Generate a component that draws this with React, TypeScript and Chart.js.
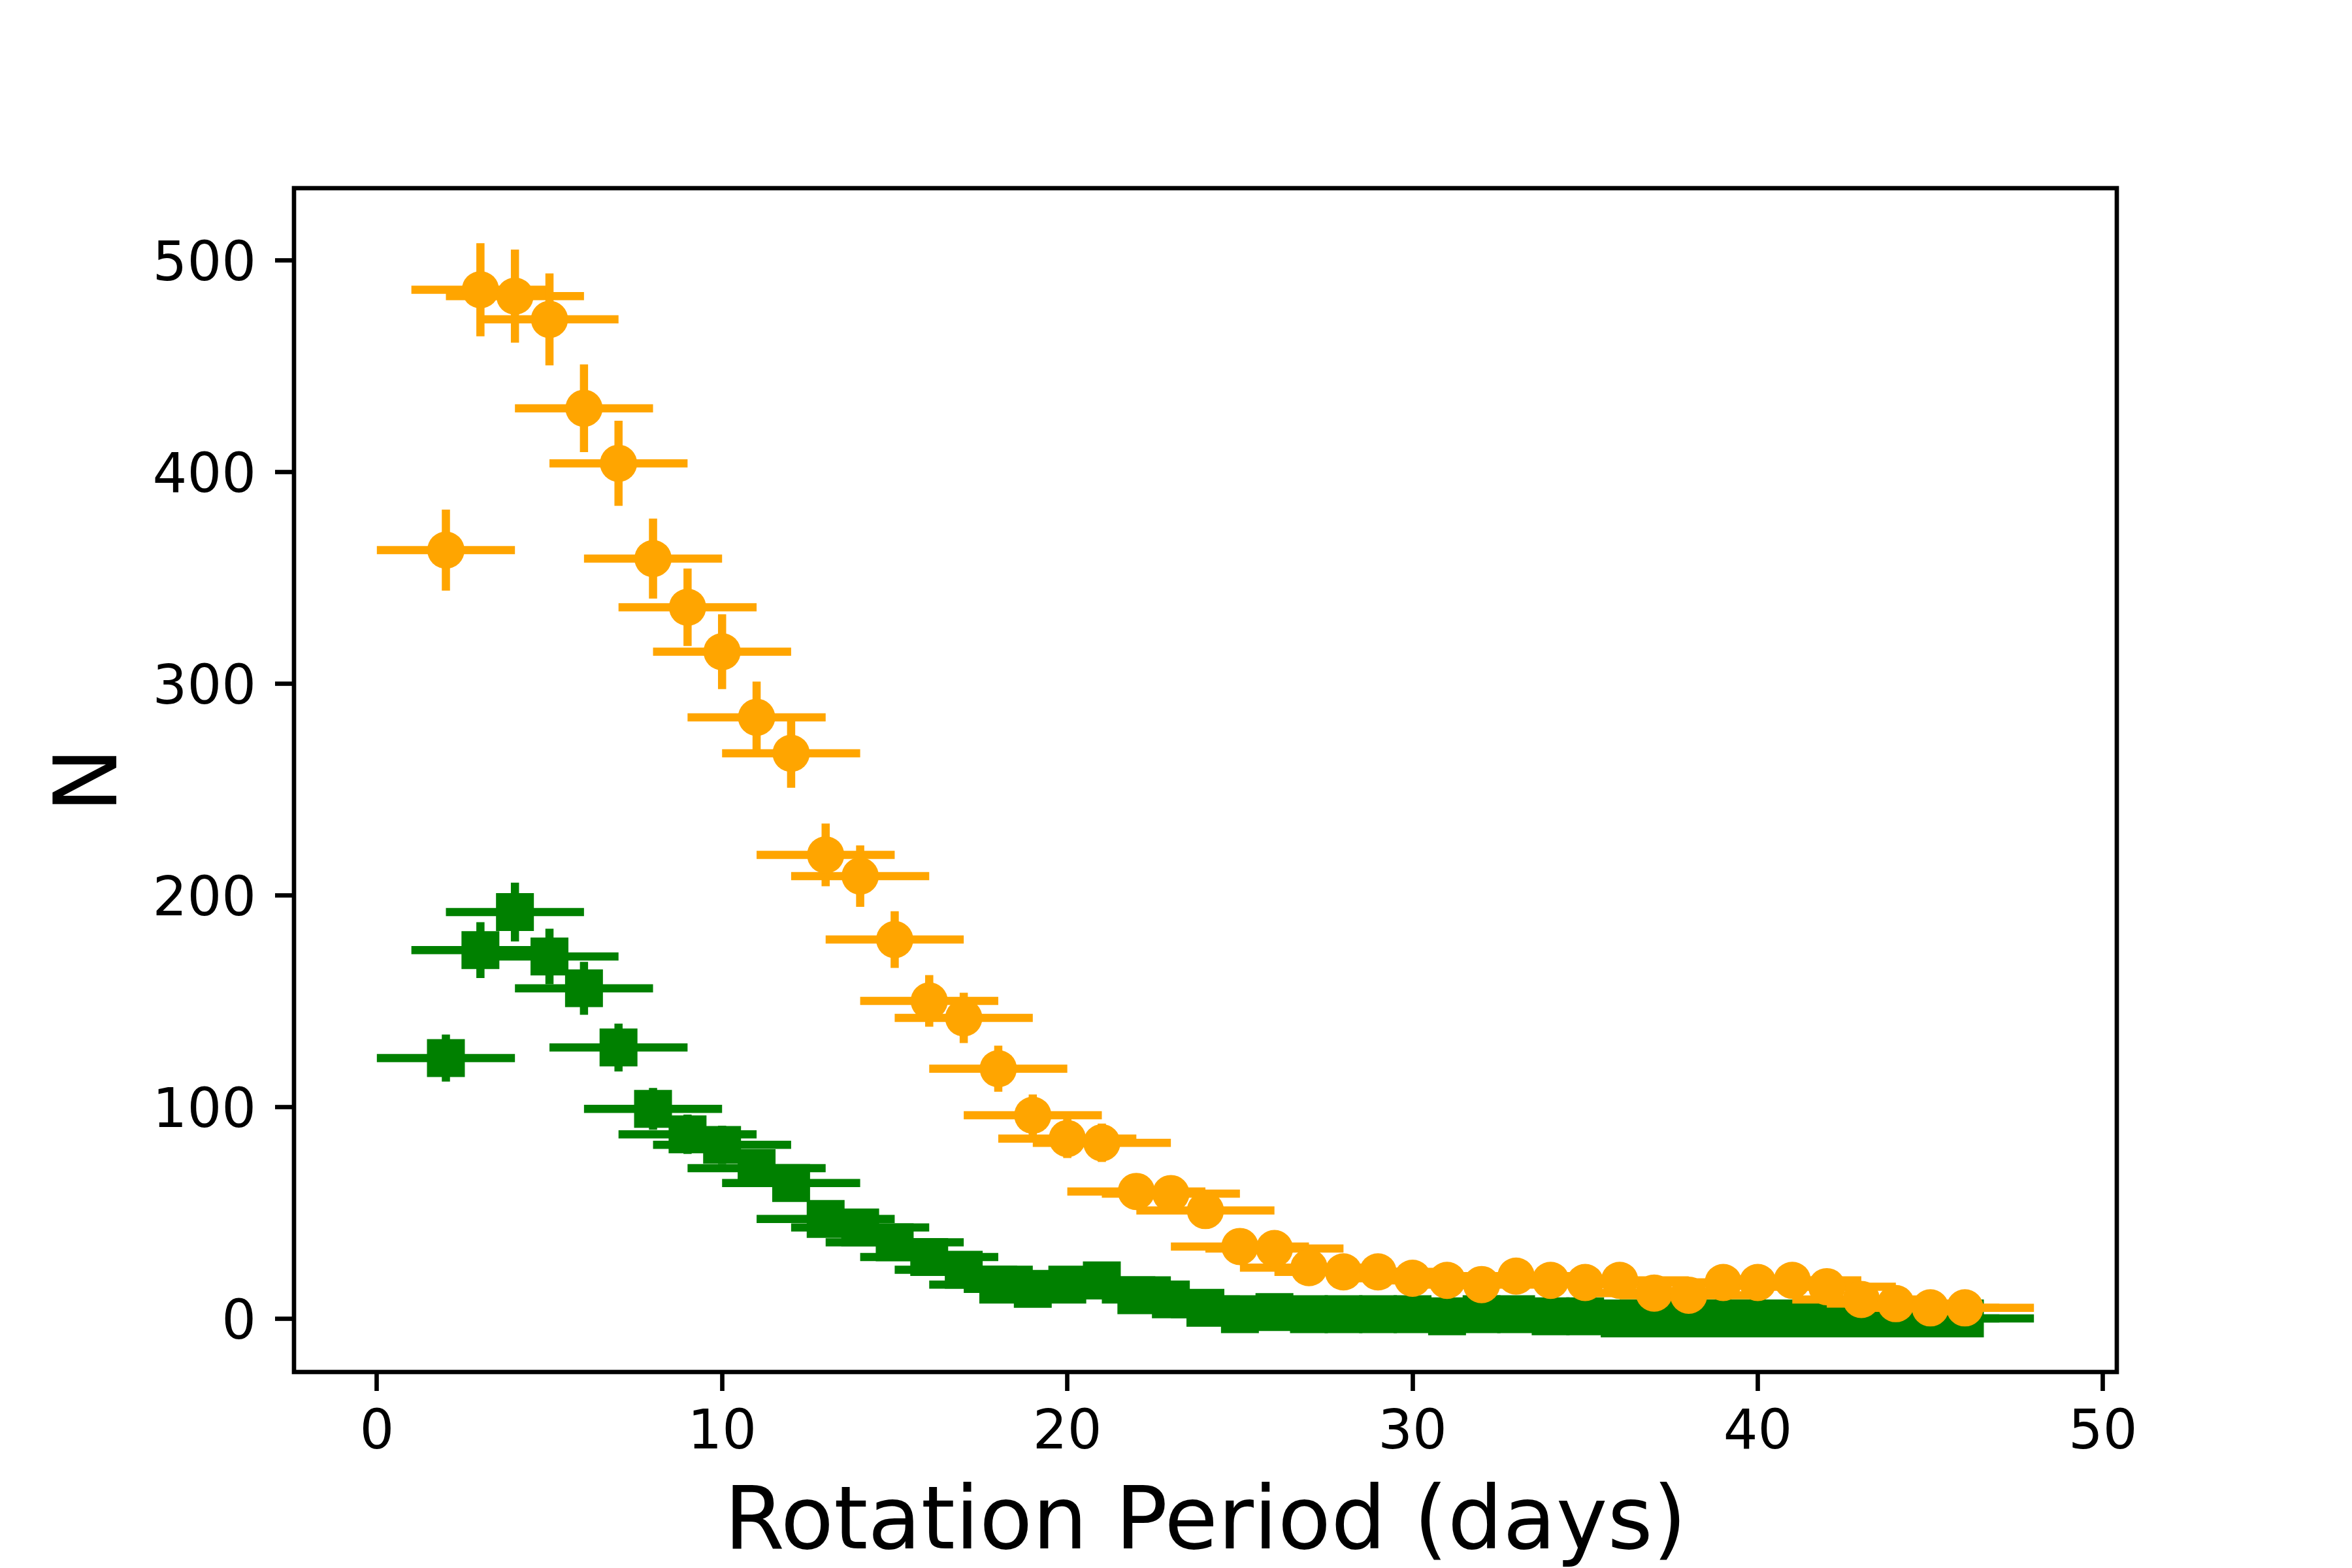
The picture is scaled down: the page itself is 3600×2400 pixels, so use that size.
import React, { useEffect, useRef } from "react";
import { Chart, registerables } from "chart.js";

Chart.register(...registerables);

// Rotation period bins (days)
const PERIODS = [
  2, 3, 4, 5, 6, 7, 8, 9, 10, 11, 12, 13, 14, 15, 16, 17, 18, 19, 20, 21, 22, 23,
  24, 25, 26, 27, 28, 29, 30, 31, 32, 33, 34, 35, 36, 37, 38, 39, 40, 41, 42, 43,
  44, 45, 46,
];

// Orange (circles) counts and errors
const ORANGE_N = [
  363, 486, 483, 472, 430, 404, 359, 336, 315, 284, 267, 219, 209, 179, 150, 142,
  118, 96, 85, 83, 60, 59, 51, 34, 33, 24, 22, 22, 19, 18, 16, 20, 18, 17, 18, 12,
  11, 17, 17, 18, 15, 9, 7, 5, 5,
];
const ORANGE_ERR = [
  19.1, 22.0, 22.0, 21.7, 20.7, 20.1, 18.9, 18.3, 17.7, 16.9, 16.3, 14.8, 14.5,
  13.4, 12.2, 11.9, 10.9, 9.8, 9.2, 9.1, 7.7, 7.7, 7.1, 5.8, 5.7, 4.9, 4.7, 4.7,
  4.4, 4.2, 4.0, 4.5, 4.2, 4.1, 4.2, 3.5, 3.3, 4.1, 4.1, 4.2, 3.9, 3.0, 2.6, 2.2,
  2.2,
];

// Green (squares) counts and errors
const GREEN_N = [
  123, 174, 192, 171, 156, 128, 99, 87, 82, 71, 64, 47, 43, 36, 29, 23, 16, 14,
  16, 18, 11, 9, 5, 2, 3, 2, 2, 2, 2, 1, 2, 2, 1, 1, 0, 0, 0, 0, 0, 0, 0, 0, 0, 0,
  0,
];
const GREEN_ERR = [
  11.1, 13.2, 13.9, 13.1, 12.5, 11.3, 9.9, 9.3, 9.1, 8.4, 8.0, 6.9, 6.6, 6.0, 5.4,
  4.8, 4.0, 3.7, 4.0, 4.2, 3.3, 3.0, 2.2, 1.4, 1.7, 1.4, 1.4, 1.4, 1.4, 1.0, 1.4,
  1.4, 1.0, 1.0, 0, 0, 0, 0, 0, 0, 0, 0, 0, 0, 0,
];

// Half bin width (x error)
const X_ERR = 2;

const X_TICKS = [0, 10, 20, 30, 40, 50];
const Y_TICKS = [0, 100, 200, 300, 400, 500];

const X_LABEL = "Rotation Period (days)";
const Y_LABEL = "N";

const ORANGE = "#FFA500";
const GREEN = "#008000";
const FONT = "DejaVu Sans";

const errorBarPlugin = {
  id: "errorBars",
  beforeDatasetDraw(chart: any, args: any) {
    const ds = chart.data.datasets[args.index];
    const { ctx, chartArea } = chart;
    const xs = chart.scales.x;
    const ys = chart.scales.y;
    ctx.save();
    ctx.beginPath();
    ctx.rect(chartArea.left, chartArea.top, chartArea.right - chartArea.left, chartArea.bottom - chartArea.top);
    ctx.clip();
    ctx.strokeStyle = ds.errColor;
    ctx.lineWidth = 12.5;
    ctx.lineCap = "butt";
    ds.data.forEach((p: any, i: number) => {
      const px = xs.getPixelForValue(p.x);
      const py = ys.getPixelForValue(p.y);
      const xe = ds.xErr;
      const ye = ds.yErr[i];
      ctx.beginPath();
      ctx.moveTo(xs.getPixelForValue(p.x - xe), py);
      ctx.lineTo(xs.getPixelForValue(p.x + xe), py);
      if (ye > 0) {
        ctx.moveTo(px, ys.getPixelForValue(p.y - ye));
        ctx.lineTo(px, ys.getPixelForValue(p.y + ye));
      }
      ctx.stroke();
    });
    ctx.restore();
  },
};

const framePlugin = {
  id: "frame",
  afterDatasetsDraw(chart: any) {
    const { ctx, chartArea } = chart;
    ctx.save();
    ctx.strokeStyle = "#000";
    ctx.lineWidth = 6.67;
    ctx.lineJoin = "miter";
    ctx.strokeRect(chartArea.left, chartArea.top, chartArea.right - chartArea.left, chartArea.bottom - chartArea.top);
    ctx.restore();
  },
};

export default function App() {
  const canvasRef = useRef<HTMLCanvasElement | null>(null);

  useEffect(() => {
    const canvas = canvasRef.current;
    if (!canvas) return;
    Chart.defaults.font.family = FONT;
    const chart = new Chart(canvas, {
      type: "scatter",
      data: {
        datasets: [
          {
            label: "orange",
            data: PERIODS.map((x, i) => ({ x, y: ORANGE_N[i] })),
            backgroundColor: ORANGE,
            borderColor: ORANGE,
            borderWidth: 0,
            pointStyle: "circle",
            pointRadius: 28.5,
            pointHoverRadius: 28.5,
            order: 0,
            errColor: ORANGE,
            xErr: X_ERR,
            yErr: ORANGE_ERR,
          } as any,
          {
            label: "green",
            data: PERIODS.map((x, i) => ({ x, y: GREEN_N[i] })),
            backgroundColor: GREEN,
            borderColor: GREEN,
            borderWidth: 0,
            pointStyle: "rect",
            pointRadius: 41,
            pointHoverRadius: 41,
            order: 1,
            errColor: GREEN,
            xErr: X_ERR,
            yErr: GREEN_ERR,
          } as any,
        ],
      },
      options: {
        responsive: false,
        devicePixelRatio: 1,
        animation: false,
        events: [],
        layout: { padding: { top: 288, right: 360, left: 0, bottom: 0 } },
        plugins: { legend: { display: false }, tooltip: { enabled: false } },
        scales: {
          x: {
            type: "linear",
            position: "bottom",
            min: -2.4,
            max: 50.4,
            afterBuildTicks: (scale: any) => {
              scale.ticks = X_TICKS.map((v) => ({ value: v }));
            },
            afterFit: (scale: any) => {
              scale.height = 300;
            },
            grid: {
              display: true,
              drawOnChartArea: false,
              drawTicks: true,
              tickLength: 29,
              tickWidth: 6.67,
              tickColor: "#000",
            },
            border: { display: false },
            ticks: {
              color: "#000",
              font: { family: FONT, size: 83 },
              padding: 17,
              maxRotation: 0,
              autoSkip: false,
              callback: (v: any) => String(v),
            },
            title: {
              display: true,
              text: X_LABEL,
              color: "#000",
              font: { family: FONT, size: 133, lineHeight: 0.97 },
              padding: 0,
            },
          },
          y: {
            type: "linear",
            position: "left",
            min: -25.3,
            max: 534,
            afterBuildTicks: (scale: any) => {
              scale.ticks = Y_TICKS.map((v) => ({ value: v }));
            },
            afterFit: (scale: any) => {
              scale.width = 450;
            },
            grid: {
              display: true,
              drawOnChartArea: false,
              drawTicks: true,
              tickLength: 29,
              tickWidth: 6.67,
              tickColor: "#000",
            },
            border: { display: false },
            ticks: {
              color: "#000",
              font: { family: FONT, size: 83 },
              padding: 29,
              labelOffset: 9,
              autoSkip: false,
              callback: (v: any) => String(v),
            },
            title: {
              display: true,
              text: Y_LABEL,
              color: "#000",
              font: { family: FONT, size: 133, lineHeight: 0.97 },
              padding: { top: 78.5, bottom: 0 },
            },
          },
        },
      },
      plugins: [errorBarPlugin, framePlugin],
    });
    return () => chart.destroy();
  }, []);

  return (
    <div style={{ position: "absolute", left: 0, top: 0, width: 3600, height: 2400, background: "#fff" }}>
      <canvas ref={canvasRef} width={3600} height={2400} style={{ display: "block", width: 3600, height: 2400 }} />
    </div>
  );
}
